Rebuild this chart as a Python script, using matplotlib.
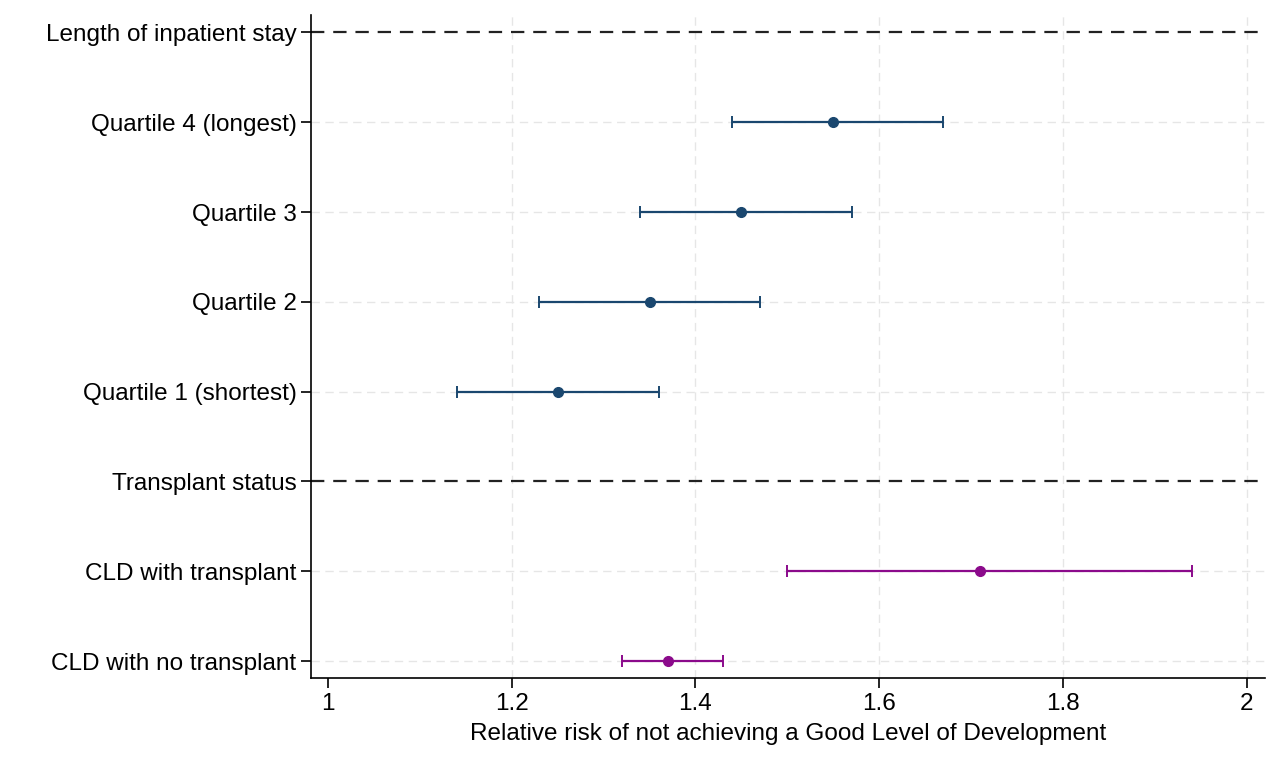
import matplotlib
matplotlib.use("Agg")
import matplotlib.pyplot as plt

plt.rcParams['font.family'] = ['Liberation Sans', 'DejaVu Sans']

labels = ["Length of inpatient stay", "Quartile 4 (longest)", "Quartile 3", "Quartile 2",
          "Quartile 1 (shortest)", "Transplant status", "CLD with transplant", "CLD with no transplant"]
ypos = [8, 7, 6, 5, 4, 3, 2, 1]

stay_y = [7, 6, 5, 4]
stay_rr = [1.55, 1.45, 1.35, 1.25]
stay_lo = [1.44, 1.34, 1.23, 1.14]
stay_hi = [1.67, 1.57, 1.47, 1.36]

tx_y = [2, 1]
tx_rr = [1.71, 1.37]
tx_lo = [1.50, 1.32]
tx_hi = [1.94, 1.43]

header_y = [8, 3]

fig = plt.figure(figsize=(12.8, 7.68), dpi=100)
ax = fig.add_axes([0.243, 0.117, 0.745, 0.863])

for v in [1.2, 1.4, 1.6, 1.8, 2.0]:
    ax.axvline(v, color="#e6e6e6", lw=1, ls=(0, (6, 4)), zorder=0)
for y in ypos:
    if y not in header_y:
        ax.axhline(y, color="#e6e6e6", lw=1, ls=(0, (6, 4)), zorder=0)
for y in header_y:
    ax.axhline(y, color="#222222", lw=1.6, ls=(0, (6, 4)), zorder=1)

def draw(ys, rr, lo, hi, col):
    err = [[r - l for r, l in zip(rr, lo)], [h - r for r, h in zip(rr, hi)]]
    ax.errorbar(rr, ys, xerr=err, fmt="o", color=col, ms=7, lw=1.6, capsize=4, capthick=1.4, zorder=3)

draw(stay_y, stay_rr, stay_lo, stay_hi, "#1a476f")
draw(tx_y, tx_rr, tx_lo, tx_hi, "#8b0a8b")

ax.set_xlim(0.9815, 2.0196)
ax.set_ylim(0.81, 8.19)
ax.set_yticks(ypos)
ax.set_yticklabels(labels, fontsize=17.5)
ax.set_xticks([1, 1.2, 1.4, 1.6, 1.8, 2])
ax.set_xticklabels(["1", "1.2", "1.4", "1.6", "1.8", "2"], fontsize=17.5)
ax.tick_params(length=7, width=1.2)
ax.set_xlabel("Relative risk of not achieving a Good Level of Development", fontsize=17.5, labelpad=6)
for s in ["top", "right"]:
    ax.spines[s].set_visible(False)
for s in ["left", "bottom"]:
    ax.spines[s].set_linewidth(1.2)

fig.savefig("out.png", dpi=100)
